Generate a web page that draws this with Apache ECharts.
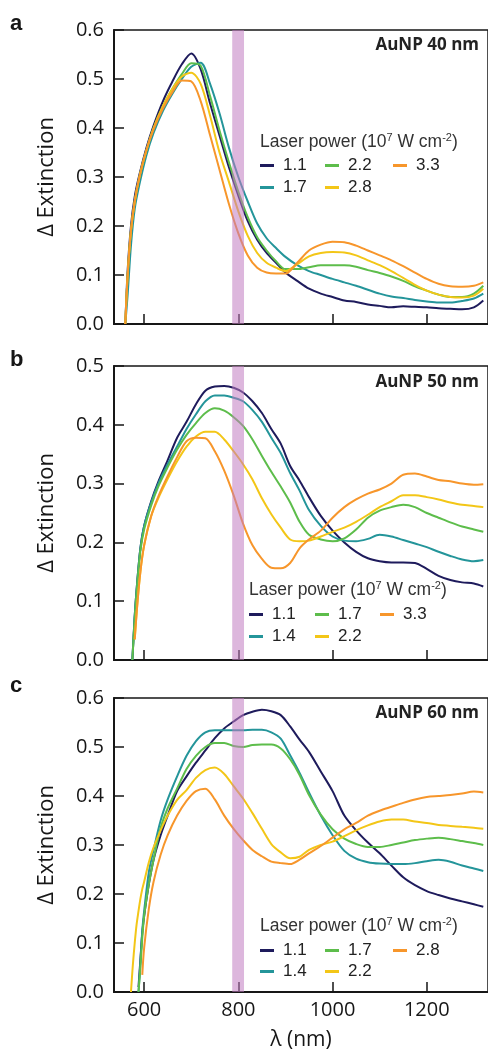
<!DOCTYPE html>
<html>
<head>
<meta charset="utf-8">
<script src="https://cdn.jsdelivr.net/npm/echarts@6.0.0/dist/echarts.min.js"></script>
<style>
  body { margin: 0; background: #fff; }
  .layer { position: absolute; left: 0; top: 0; width: 488px; height: 1053px; }
</style>
</head>
<body>
<div id="pa" class="layer"></div>
<div id="pb" class="layer"></div>
<div id="pc" class="layer"></div>
<script>
// x ticks shared by all three panels (nm)
var xTicks = [600, 800, 1000, 1200];
var band = [787, 812]; // excitation laser band

// panel a: AuNP 40 nm
var wlA = [560,565,572,580,590,605,620,640,660,680,700,720,740,760,780,800,820,840,860,880,900,925,950,975,1000,1025,1050,1075,1100,1125,1150,1175,1200,1225,1250,1275,1300,1320];
var namesA = ['1.1', '1.7', '2.2', '2.8', '3.3'];
var a11 = [0,0.11,0.2,0.26,0.305,0.36,0.405,0.455,0.495,0.53,0.552,0.52,0.45,0.385,0.32,0.262,0.21,0.172,0.145,0.125,0.105,0.088,0.072,0.062,0.055,0.048,0.045,0.04,0.037,0.034,0.036,0.035,0.034,0.032,0.031,0.03,0.034,0.048];
var a17 = [0,0.06,0.16,0.235,0.285,0.345,0.39,0.435,0.47,0.5,0.525,0.533,0.49,0.43,0.36,0.3,0.25,0.205,0.175,0.155,0.137,0.12,0.108,0.1,0.092,0.085,0.078,0.07,0.062,0.056,0.053,0.049,0.046,0.044,0.044,0.047,0.052,0.062];
var a22 = [0,0.1,0.19,0.25,0.3,0.355,0.4,0.445,0.48,0.51,0.532,0.527,0.465,0.395,0.33,0.27,0.218,0.177,0.15,0.128,0.112,0.112,0.116,0.12,0.12,0.12,0.117,0.11,0.104,0.097,0.088,0.077,0.068,0.06,0.055,0.055,0.062,0.078];
var a28 = [0,0.1,0.19,0.25,0.3,0.355,0.4,0.445,0.48,0.505,0.513,0.49,0.425,0.35,0.29,0.23,0.18,0.145,0.125,0.115,0.108,0.122,0.138,0.145,0.147,0.146,0.14,0.13,0.12,0.108,0.094,0.08,0.068,0.06,0.055,0.054,0.058,0.072];
var a33 = [0,0.1,0.19,0.25,0.3,0.355,0.397,0.44,0.473,0.497,0.495,0.455,0.385,0.315,0.245,0.185,0.14,0.115,0.105,0.103,0.103,0.125,0.15,0.162,0.168,0.167,0.16,0.15,0.14,0.13,0.118,0.105,0.092,0.082,0.077,0.076,0.078,0.085];

// panel b: AuNP 50 nm
var wlB = [575,580,585,592,600,615,630,650,670,690,710,730,750,770,790,810,830,850,870,890,910,930,950,975,1000,1025,1050,1075,1100,1125,1150,1175,1200,1225,1250,1275,1300,1320];
var namesB = ['1.1', '1.4', '1.7', '2.2', '3.3'];
var b11 = [0,0.075,0.13,0.19,0.228,0.27,0.303,0.34,0.378,0.405,0.435,0.458,0.465,0.466,0.463,0.455,0.44,0.42,0.393,0.368,0.33,0.305,0.277,0.245,0.22,0.2,0.184,0.173,0.168,0.166,0.166,0.165,0.155,0.143,0.136,0.132,0.13,0.125];
var b14 = [0,0.075,0.13,0.19,0.228,0.268,0.3,0.333,0.363,0.393,0.418,0.44,0.45,0.45,0.446,0.44,0.425,0.405,0.378,0.352,0.318,0.288,0.255,0.228,0.21,0.203,0.202,0.206,0.213,0.21,0.204,0.198,0.192,0.184,0.177,0.171,0.168,0.17];
var b17 = [0,0.07,0.125,0.185,0.222,0.263,0.295,0.328,0.358,0.383,0.403,0.42,0.428,0.424,0.413,0.398,0.375,0.347,0.32,0.295,0.268,0.235,0.213,0.205,0.202,0.207,0.222,0.242,0.254,0.26,0.264,0.26,0.25,0.242,0.234,0.227,0.222,0.218];
var b22 = [null,0.035,0.09,0.15,0.195,0.245,0.275,0.308,0.338,0.363,0.38,0.388,0.388,0.375,0.355,0.333,0.307,0.275,0.248,0.225,0.205,0.202,0.203,0.21,0.218,0.225,0.235,0.247,0.26,0.27,0.28,0.28,0.277,0.273,0.268,0.264,0.262,0.26];
var b33 = [null,0.035,0.09,0.15,0.195,0.245,0.278,0.313,0.345,0.372,0.378,0.377,0.355,0.322,0.28,0.232,0.195,0.172,0.157,0.156,0.165,0.19,0.205,0.22,0.242,0.26,0.273,0.283,0.29,0.3,0.315,0.317,0.312,0.306,0.304,0.3,0.298,0.299];

// panel c: AuNP 60 nm
var wlC = [572,576,580,584,588,592,596,600,610,620,635,650,670,690,710,730,750,770,790,810,830,850,870,890,910,930,950,975,1000,1025,1050,1075,1100,1125,1150,1175,1200,1225,1250,1275,1300,1320];
var namesC = ['1.1', '1.4', '1.7', '2.2', '2.8'];
var c11 = [null,null,null,null,0.01,0.065,0.12,0.155,0.22,0.27,0.32,0.36,0.41,0.44,0.468,0.493,0.518,0.538,0.552,0.565,0.572,0.576,0.573,0.565,0.542,0.515,0.49,0.45,0.41,0.36,0.33,0.305,0.283,0.258,0.234,0.218,0.206,0.198,0.191,0.185,0.179,0.174];
var c14 = [null,null,null,null,0,0.06,0.125,0.165,0.245,0.29,0.35,0.393,0.44,0.482,0.512,0.53,0.534,0.534,0.534,0.534,0.535,0.535,0.53,0.517,0.483,0.447,0.407,0.36,0.32,0.288,0.272,0.265,0.262,0.261,0.261,0.263,0.267,0.27,0.266,0.258,0.252,0.247];
var c17 = [null,null,null,null,0,0.05,0.11,0.155,0.22,0.27,0.335,0.375,0.415,0.455,0.482,0.5,0.508,0.508,0.502,0.5,0.504,0.505,0.505,0.497,0.475,0.443,0.402,0.362,0.332,0.313,0.302,0.296,0.296,0.3,0.305,0.31,0.313,0.315,0.312,0.308,0.304,0.3];
var c22 = [0,0.055,0.1,0.138,0.165,0.19,0.21,0.225,0.265,0.295,0.33,0.36,0.392,0.412,0.437,0.453,0.458,0.445,0.42,0.395,0.365,0.333,0.302,0.285,0.273,0.276,0.29,0.3,0.307,0.318,0.33,0.34,0.348,0.352,0.352,0.348,0.345,0.341,0.339,0.337,0.335,0.333];
var c28 = [null,null,null,null,null,null,0.035,0.09,0.17,0.225,0.28,0.32,0.36,0.39,0.41,0.415,0.393,0.36,0.333,0.31,0.29,0.277,0.266,0.263,0.261,0.27,0.283,0.298,0.315,0.332,0.345,0.36,0.37,0.378,0.386,0.393,0.398,0.4,0.402,0.405,0.409,0.407];

var navy = '#1e1b5c', teal = '#24959a', green = '#5dbd4b', yellow = '#f3c617', orange = '#f7962b';
var ink = '#161616';
var legendTitle = '{n|Laser power (10}{s|7}{n| W cm}{s|-2}{n|)}';

function panel(id, o) {
  var chart = echarts.init(document.getElementById(id));
  var series = o.names.map(function (n, i) {
    return {
      name: n,
      type: 'line',
      showSymbol: false,
      smooth: 0.3,
      lineStyle: { width: 2, color: o.colors[i] },
      itemStyle: { color: o.colors[i] },
      data: o.wl.map(function (x, j) { return [x, o.vals[i][j]]; })
    };
  });
  // laser band drawn over the lines
  series.push({
    type: 'line',
    data: [],
    silent: true,
    markArea: {
      silent: true,
      z: 10,
      itemStyle: { color: 'rgba(193,124,193,0.55)' },
      data: [[{ xAxis: band[0] }, { xAxis: band[1] }]]
    }
  });

  var legends = [[0, 1], [2, 3], [4]].map(function (idx, k) {
    return {
      data: idx.map(function (i) { return o.names[i]; }),
      orient: 'vertical',
      left: o.cols[k],
      top: o.rowTop,
      padding: 0,
      itemGap: o.rowGap - 17,
      itemWidth: 14,
      itemHeight: 3,
      icon: 'rect',
      selectedMode: false,
      textStyle: { fontFamily: 'Liberation Sans', fontSize: 17, lineHeight: 17, color: '#222', padding: [0, 0, 0, 4] }
    };
  });

  chart.setOption({
    animation: false,
    title: [
      { text: o.letter, left: 10, top: o.letterTop, padding: 0,
        textStyle: { fontFamily: 'Liberation Sans', fontWeight: 'bold', fontSize: 22, color: ink } },
      { text: o.label, right: 9, top: o.labelTop, padding: 0,
        textStyle: { fontFamily: 'Open Sans', fontWeight: 'bold', fontSize: 17, color: '#222' } },
      { text: legendTitle, left: o.cols[0], top: o.legTop, padding: 0,
        textStyle: { fontWeight: 'normal', rich: {
          n: { fontFamily: 'Liberation Sans', fontWeight: 'normal', fontSize: 17.5, color: '#333', lineHeight: 19, verticalAlign: 'bottom' },
          s: { fontFamily: 'Liberation Sans', fontWeight: 'normal', fontSize: 11, color: '#333', lineHeight: 11, verticalAlign: 'top' }
        } } }
    ],
    legend: legends,
    grid: { left: 114, right: -4, top: o.top, height: 294, show: true, borderColor: ink, borderWidth: 1.5 },
    xAxis: {
      type: 'value', min: 536, max: 1330,
      axisLine: { lineStyle: { color: ink, width: 2 } },
      axisTick: { inside: true, length: 10, customValues: xTicks, lineStyle: { color: ink, width: 1.5 } },
      axisLabel: { show: o.showX, customValues: xTicks, margin: 8, fontFamily: 'Open Sans', fontSize: 20, color: ink,
        formatter: function (v) { return String(v); } },
      splitLine: { show: false },
      name: o.showX ? 'λ (nm)' : '',
      nameLocation: 'middle',
      nameGap: 38,
      nameTextStyle: { fontFamily: 'Open Sans', fontSize: 21, color: ink }
    },
    yAxis: {
      type: 'value', min: 0, max: o.yMax, interval: 0.1,
      axisLine: { show: true, lineStyle: { color: ink, width: 2 } },
      axisTick: { inside: true, length: 10, lineStyle: { color: ink, width: 1.5 } },
      axisLabel: { margin: 10, fontFamily: 'Open Sans', fontSize: 20, color: ink,
        formatter: function (v) { return v.toFixed(1); } },
      splitLine: { show: false },
      name: 'Δ Extinction',
      nameLocation: 'middle',
      nameGap: 56,
      nameTextStyle: { fontFamily: 'Open Sans', fontSize: 22, color: ink }
    },
    series: series
  });
}

var cols5 = [navy, teal, green, yellow, orange];

panel('pa', {
  letter: 'a', letterTop: 13, label: 'AuNP 40 nm', labelTop: 37, top: 30, yMax: 0.6,
  wl: wlA, names: namesA, vals: [a11, a17, a22, a28, a33], colors: cols5,
  cols: [260, 325, 393], legTop: 132, rowTop: 157, rowGap: 22, showX: false
});
panel('pb', {
  letter: 'b', letterTop: 349, label: 'AuNP 50 nm', labelTop: 374, top: 366, yMax: 0.5,
  wl: wlB, names: namesB, vals: [b11, b14, b17, b22, b33], colors: cols5,
  cols: [249, 315, 380], legTop: 580, rowTop: 606, rowGap: 22, showX: false
});
panel('pc', {
  letter: 'c', letterTop: 675, label: 'AuNP 60 nm', labelTop: 705, top: 698, yMax: 0.6,
  wl: wlC, names: namesC, vals: [c11, c14, c17, c22, c28], colors: cols5,
  cols: [260, 325, 393], legTop: 916, rowTop: 942, rowGap: 21, showX: true
});
</script>
</body>
</html>
